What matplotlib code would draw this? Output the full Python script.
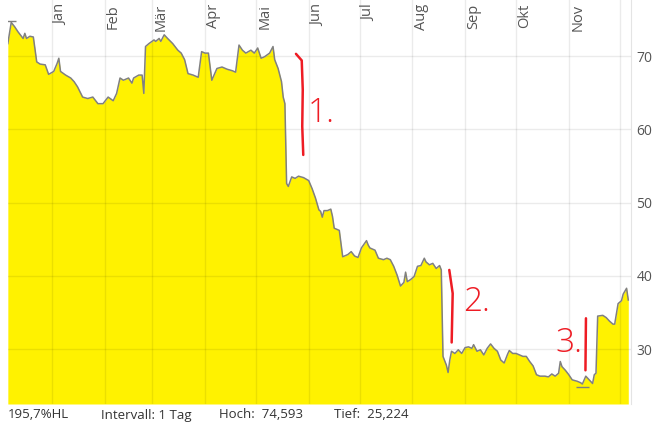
import matplotlib
matplotlib.use("Agg")
import matplotlib.pyplot as plt
import matplotlib.transforms as mtransforms

# day offset from 1 Jan (negative = December of the year before) and price
days = [-26, -24, -22, -20, -17, -16, -15, -13, -11, -9, -7, -4, -2, 1, 3, 4, 5, 8,
        11, 13, 15, 18, 21, 24, 27, 30, 33, 36, 38, 40, 42, 45, 47, 48, 51, 53, 54,
        55, 57, 60, 61, 63, 64, 66, 68, 71, 74, 76, 78, 80, 83, 86, 88, 90, 92, 94,
        97, 100, 103, 106, 108, 110, 112, 114, 117, 119, 121, 123, 125, 128, 130,
        131, 133, 135, 136, 137, 138, 139, 141, 143, 145, 148, 151, 153, 155, 157,
        158, 159, 160, 162, 164, 165, 166, 169, 171, 174, 176, 178, 180, 182, 185,
        186, 187, 190, 192, 195, 197, 199, 201, 203, 205, 207, 208, 209, 211, 213,
        215, 217, 219, 220, 222, 224, 226, 228, 229, 230, 232, 233, 234, 235, 237,
        239, 241, 243, 245, 247, 248, 250, 252, 254, 256, 258, 260, 262, 264, 266,
        268, 269, 271, 273, 275, 277, 279, 281, 283, 285, 287, 290, 292, 294, 296,
        298, 299, 300, 302, 304, 306, 309, 311, 312, 314, 316, 318, 319, 320, 321,
        324, 326, 328, 330, 331, 333, 335, 336, 338, 339]
prices = [71.7, 74.593, 74.0, 73.3, 72.4, 73.1, 72.4, 72.7, 72.6, 69.2, 68.9, 68.8,
          67.5, 67.9, 69.0, 69.7, 67.9, 67.4, 67.0, 66.5, 65.8, 64.4, 64.2, 64.4,
          63.5, 63.5, 64.4, 63.9, 64.9, 67.0, 66.7, 67.0, 66.3, 67.0, 67.4, 67.4,
          64.9, 71.3, 71.7, 72.2, 72.0, 72.4, 72.0, 72.9, 72.4, 71.7, 70.8, 70.4,
          69.5, 67.6, 67.4, 67.1, 70.6, 70.4, 70.4, 66.7, 68.3, 68.5, 68.2, 68.0,
          67.8, 71.5, 70.8, 70.4, 70.8, 70.4, 71.1, 69.7, 69.9, 70.4, 71.3, 69.5,
          68.3, 66.5, 64.4, 63.5, 52.6, 52.2, 53.5, 53.3, 53.6, 53.4, 53.0, 51.9,
          50.6, 49.0, 48.8, 48.0, 48.9, 48.9, 49.1, 48.1, 46.5, 46.2, 42.6, 42.9,
          43.3, 42.7, 42.5, 43.8, 44.8, 44.2, 43.8, 43.5, 42.4, 42.2, 42.4, 42.2,
          41.3, 40.1, 38.6, 39.1, 40.5, 39.2, 39.5, 39.9, 41.3, 41.4, 42.4, 41.9,
          41.5, 41.7, 41.0, 41.4, 40.8, 29.0, 27.8, 26.8, 28.5, 29.7, 29.4, 29.9,
          29.4, 30.2, 30.3, 30.1, 30.6, 29.7, 29.9, 29.2, 30.1, 30.7, 30.1, 29.7,
          28.5, 28.1, 29.3, 29.8, 29.4, 29.4, 29.2, 29.0, 29.0, 28.3, 27.7, 26.5,
          26.3, 26.3, 26.2, 26.6, 26.3, 26.7, 28.3, 27.6, 27.1, 26.5, 25.8, 25.6,
          25.4, 25.224, 26.3, 25.8, 25.3, 26.5, 26.7, 34.5, 34.6, 34.3, 33.8, 33.4,
          33.4, 36.2, 36.6, 37.5, 38.3, 36.7]

month_starts = [0, 31, 59, 90, 120, 151, 181, 212, 243, 273, 304, 334]
month_labels = ["Jan", "Feb", "Mär", "Apr", "Mai", "Jun", "Jul", "Aug", "Sep",
                "Okt", "Nov", ""]
y_ticks = [30, 40, 50, 60, 70]

info_texts = ["195,7%HL", "Intervall: 1 Tag", "Hoch:  74,593", "Tief:  25,224"]
info_x = [8, 101, 219, 334]

# hand drawn red marks (data coordinates)
marks = [
    ([143.5, 146.9, 147.5, 147.2, 147.8], [70.3, 69.4, 65.4, 60.4, 56.5]),
    ([233.7, 235.7, 235.1], [40.8, 37.6, 30.9]),
    ([314.1, 313.8], [34.2, 27.1]),
]
mark_texts = [("1.", 158.5, 62.2), ("2.", 249.5, 36.4), ("3.", 303.8, 30.8)]

plt.rcParams['font.family'] = ['Open Sans', 'DejaVu Sans']

W, H = 661, 429
fig = plt.figure(figsize=(W / 100, H / 100), dpi=100)
ax = fig.add_axes([8 / W, 1 - 404 / H, 623 / W, 404 / H])

ymin, ymax = 22.5, 77.65
ax.fill_between(days, prices, ymin, color='#fff200', lw=0, zorder=1)
ax.plot(days, prices, color='#808080', lw=1.1, zorder=3)

# high / low markers
i_hi = prices.index(max(prices))
i_lo = prices.index(min(prices))
ax.hlines(max(prices) + 0.15, days[i_hi] - 2.7, days[i_hi] + 2.7, color='#808080', lw=1, zorder=3)
ax.hlines(min(prices) - 0.4, days[i_lo] - 4, days[i_lo] + 4, color='#808080', lw=1, zorder=3)

ax.set_xlim(-25.9, 340.6)
ax.set_ylim(ymin, ymax)
ax.set_xticks(month_starts)
ax.set_xticklabels([])
ax.set_yticks(y_ticks)
ax.yaxis.tick_right()
ax.tick_params(axis='x', length=0)
ax.tick_params(axis='y', length=0, pad=4, labelsize=10, labelcolor='#555555')
ax.grid(color='black', alpha=0.08, lw=1, zorder=2)
ax.set_axisbelow(False)
for s in ['top', 'bottom', 'left']:
    ax.spines[s].set_visible(False)
ax.spines['right'].set_color('#e4e4e4')

trans = mtransforms.blended_transform_factory(ax.transData, ax.transAxes)
for m, lab in zip(month_starts, month_labels):
    ax.text(m + 0.8, 1 - 4 / 404, lab, rotation=90, ha='left', va='top',
            transform=trans, fontsize=10.5, color='#555555', zorder=4)

for xs, ys in marks:
    ax.plot(xs, ys, color='#ee1c24', lw=1.8, solid_capstyle='round', zorder=5)
for t, x, y in mark_texts:
    ax.text(x, y, t, color='#ee1c24', fontsize=24, fontweight='light',
            ha='center', va='center', zorder=5)

for t, x in zip(info_texts, info_x):
    fig.text(x / W, 1 - 415 / H, t, fontsize=9.5, color='#333333', ha='left', va='center')

fig.savefig('out.png', dpi=100)
